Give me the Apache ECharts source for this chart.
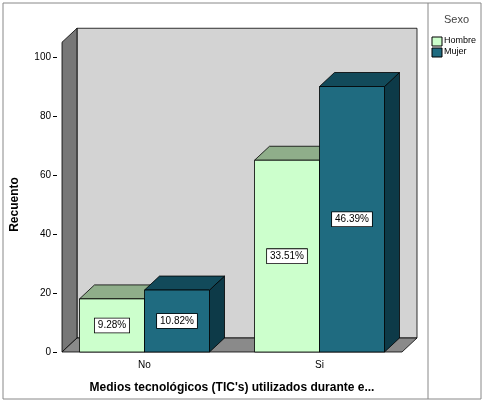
<!DOCTYPE html>
<html><head><meta charset="utf-8">
<script src="https://cdn.jsdelivr.net/npm/echarts@6/dist/echarts.min.js"></script>
<style>html,body{margin:0;background:#fff}#c{width:488px;height:407px}</style>
</head><body><div id="c"></div>
<script>
var categories = ['No', 'Si'];
var hombre = [18, 65];
var mujer = [21, 90];
var hombrePct = ['9.28%', '33.51%'];
var mujerPct = ['10.82%', '46.39%'];
var yTicks = [0, 20, 40, 60, 80, 100];

var DX = 15, DY = -14, BW = 65;
var chart = echarts.init(document.getElementById('c'));

function bar3d(front, top, side, pcts, offset) {
	return function(params, api) {
		var i = params.dataIndex;
		var base = api.coord([i, 0]), tp = api.coord([i, api.value(1)]);
		var x0 = base[0] + offset, x1 = x0 + BW, y0 = base[1], y1 = tp[1];
		return {type: 'group', children: [
			{type: 'polygon', shape: {points: [[x1, y1], [x1 + DX, y1 + DY], [x1 + DX, y0 + DY], [x1, y0]]},
				style: {fill: side, stroke: '#000', lineWidth: 0.8}},
			{type: 'polygon', shape: {points: [[x0, y1], [x0 + DX, y1 + DY], [x1 + DX, y1 + DY], [x1, y1]]},
				style: {fill: top, stroke: '#000', lineWidth: 0.8}},
			{type: 'rect', shape: {x: x0, y: y1, width: BW, height: y0 - y1},
				style: {fill: front, stroke: '#000', lineWidth: 0.8}},
			{type: 'text', x: x0 + BW / 2, y: (y0 + y1) / 2,
				style: {text: pcts[i], align: 'center', verticalAlign: 'middle', fontSize: 10,
					fontFamily: 'Liberation Sans', fill: '#000', backgroundColor: '#fff',
					borderColor: '#000', borderWidth: 0.8, padding: [2, 3]}}
		]};
	};
}

function walls(params, api) {
	var a = api.coord([0, 0]), b = api.coord([1, 0]), t = api.coord([0, 105]);
	var band = b[0] - a[0];
	var xl = a[0] - band / 2 + 5, xr = b[0] + band / 2 - 5, y0 = a[1], yt = t[1];
	return {type: 'group', children: [
		{type: 'rect', shape: {x: xl + DX, y: yt + DY, width: xr - xl, height: y0 - yt},
			style: {fill: '#d3d3d3', stroke: '#000', lineWidth: 0.8}},
		{type: 'polygon', shape: {points: [[xl, yt], [xl + DX, yt + DY], [xl + DX, y0 + DY], [xl, y0]]},
			style: {fill: '#777', stroke: '#000', lineWidth: 0.8}},
		{type: 'polygon', shape: {points: [[xl, y0], [xl + DX, y0 + DY], [xr + DX, y0 + DY], [xr, y0]]},
			style: {fill: '#8a8a8a', stroke: '#000', lineWidth: 0.8}}
	]};
}

chart.setOption({
	animation: false,
	grid: {left: 57, top: 57, width: 350, height: 295},
	xAxis: {type: 'category', data: categories, axisLine: {show: false},
		axisTick: {show: false}, axisLabel: {fontSize: 10, color: '#000', margin: 8},
		name: "Medios tecnológicos (TIC's) utilizados durante e...", nameLocation: 'middle', nameGap: 30,
		nameTextStyle: {fontWeight: 'bold', fontSize: 12, color: '#000', fontFamily: 'Liberation Sans'}},
	yAxis: {type: 'value', min: 0, max: 100, interval: 20, splitLine: {show: false},
		axisLine: {show: false}, axisTick: {show: true, length: 4, lineStyle: {color: '#000'}},
		axisLabel: {fontSize: 10, color: '#000', margin: 6},
		name: 'Recuento', nameLocation: 'middle', nameGap: 36,
		nameTextStyle: {fontWeight: 'bold', fontSize: 12, color: '#000', fontFamily: 'Liberation Sans'}},
	legend: {show: false},
	graphic: [
		{type: 'rect', shape: {x: 3, y: 3, width: 478, height: 396}, style: {fill: 'none', stroke: '#888'}},
		{type: 'line', shape: {x1: 428, y1: 3, x2: 428, y2: 399}, style: {stroke: '#888'}},
		{type: 'text', x: 444, y: 14, style: {text: 'Sexo', fontSize: 11, fill: '#444', fontFamily: 'Liberation Sans'}},
		{type: 'rect', shape: {x: 432, y: 37, width: 10, height: 9}, style: {fill: '#ccffcc', stroke: '#000'}},
		{type: 'text', x: 444, y: 36, style: {text: 'Hombre', fontSize: 9, fill: '#000', fontFamily: 'Liberation Sans'}},
		{type: 'rect', shape: {x: 432, y: 48, width: 10, height: 9}, style: {fill: '#1f6b80', stroke: '#000'}},
		{type: 'text', x: 444, y: 47, style: {text: 'Mujer', fontSize: 9, fill: '#000', fontFamily: 'Liberation Sans'}}
	],
	series: [
		{type: 'custom', renderItem: walls, data: [[0, 0]], z: 1, silent: true},
		{type: 'custom', name: 'Hombre', renderItem: bar3d('#ccffcc', '#8fae8a', '#6d8a69', hombrePct, -BW),
			data: hombre.map(function(v, i) { return [i, v]; }), z: 2},
		{type: 'custom', name: 'Mujer', renderItem: bar3d('#1f6b80', '#124a5a', '#0d3a48', mujerPct, 0),
			data: mujer.map(function(v, i) { return [i, v]; }), z: 3}
	]
});
</script></body></html>
